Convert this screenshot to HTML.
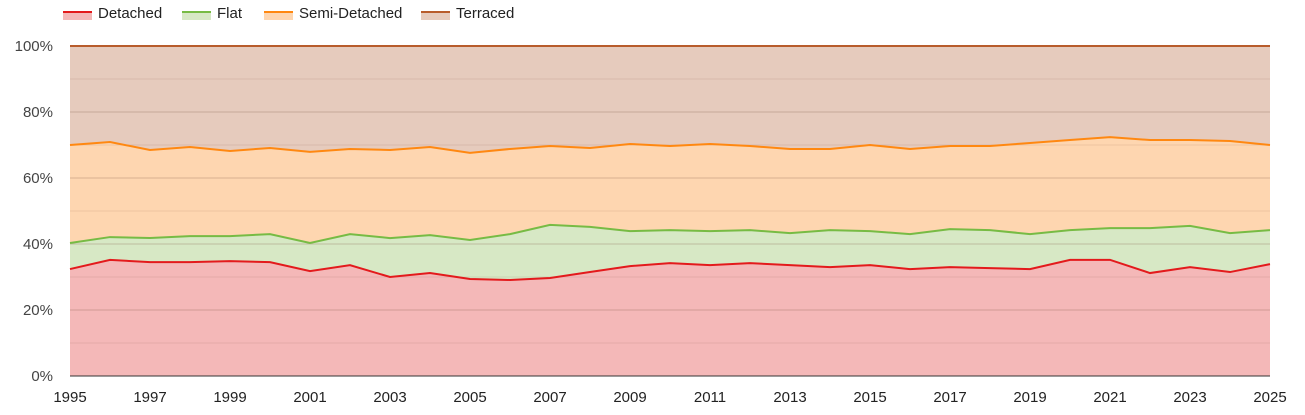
<!DOCTYPE html>
<html><head><meta charset="utf-8"><style>
body{margin:0;background:#fff;width:1305px;height:410px;overflow:hidden;font-family:"Liberation Sans",Arial,sans-serif}
</style></head><body>
<svg id="chart" width="1305" height="410" xmlns="http://www.w3.org/2000/svg"></svg>
<script>
const years=[];for(let y=1995;y<=2025;y++)years.push(y);
const detached=[32.4,35.2,34.5,34.5,34.8,34.5,31.8,33.6,30,31.2,29.4,29.1,29.7,31.5,33.3,34.2,33.6,34.2,33.6,33,33.6,32.4,33,32.7,32.4,35.2,35.2,31.2,33,31.5,33.9];
const flat=[7.9,6.9,7.3,7.9,7.6,8.5,8.5,9.4,11.8,11.5,11.8,13.9,16.1,13.7,10.6,10,10.3,10,9.7,11.2,10.3,10.6,11.5,11.5,10.6,9,9.6,13.6,12.5,11.8,10.3];
const semi=[29.7,28.8,26.7,27,25.8,26.1,27.6,25.8,26.7,26.7,26.4,25.8,23.9,23.9,26.4,25.5,26.4,25.5,25.5,24.6,26.1,25.8,25.2,25.5,27.6,27.3,27.6,26.7,26,27.9,25.8];
const terraced=[30,29.1,31.5,30.6,31.8,30.9,32.1,31.2,31.5,30.6,32.4,31.2,30.3,30.9,29.7,30.3,29.7,30.3,31.2,31.2,30,31.2,30.3,30.3,29.4,28.5,27.6,28.5,28.5,28.8,30];
const yTicks=[0,20,40,60,80,100];
const xTickYears=[1995,1997,1999,2001,2003,2005,2007,2009,2011,2013,2015,2017,2019,2021,2023,2025];

const NS="http://www.w3.org/2000/svg",svg=document.getElementById('chart');
const X0=70,X1=1270,Y0=376,Y1=46;
const x=yr=>X0+(yr-years[0])/(years[years.length-1]-years[0])*(X1-X0);
const y=p=>Y0-p/100*(Y0-Y1);
function el(t,a,p){const e=document.createElementNS(NS,t);for(const k in a)e.setAttribute(k,a[k]);(p||svg).appendChild(e);return e;}

const series=[
 {name:'Detached',vals:detached,fill:'#f4b8b8',line:'#e31a1c'},
 {name:'Flat',vals:flat,fill:'#d7e8c5',line:'#77bb44'},
 {name:'Semi-Detached',vals:semi,fill:'#fed6b0',line:'#ff8811'},
 {name:'Terraced',vals:terraced,fill:'#e6cbbd',line:'#b85c2c'}];
const totals=years.map((_,i)=>series.reduce((s,se)=>s+se.vals[i],0));
let base=years.map(()=>0);
const tops=[];
series.forEach(se=>{const top=base.map((b,i)=>b+se.vals[i]/totals[i]*100);tops.push({se,top,bot:base});base=top;});
tops.forEach(({se,top,bot},si)=>{
 let d='M'+years.map((yr,i)=>x(yr)+','+y(top[i])).join('L');
 for(let i=years.length-1;i>=0;i--)d+='L'+x(years[i])+','+y(bot[i]);
 const a=el('path',{d:d+'Z',fill:se.fill});
 
 
});
// gridlines
for(let p=10;p<=90;p+=10){const g=el('line',{x1:X0,x2:X1,y1:y(p),y2:y(p),stroke:p%20==0?'rgba(120,80,60,0.28)':'rgba(120,80,60,0.13)','stroke-width':1});
 }
tops.forEach(({se,top})=>{
 const l=el('polyline',{points:years.map((yr,i)=>x(yr)+','+y(top[i])).join(' '),fill:'none',stroke:se.line,'stroke-width':2});
 
 
});
const ax=el('line',{x1:X0,x2:X1,y1:Y0,y2:Y0,stroke:'#333','stroke-width':1});

yTicks.forEach(p=>{const t=el('text',{x:53,y:y(p)+5,'text-anchor':'end','font-size':15,fill:'#444'});t.textContent=p+'%';
 });
xTickYears.forEach(yr=>{const t=el('text',{x:x(yr),y:402,'text-anchor':'middle','font-size':15,fill:'#222'});t.textContent=yr;
 });
// legend
const lx=[63,182,264,421];
series.forEach((se,i)=>{const g=el('g',{});
 
 
 el('rect',{x:lx[i],y:12,width:29,height:8,fill:se.fill},g);
 el('rect',{x:lx[i],y:11,width:29,height:2,fill:se.line},g);
 const t=el('text',{x:lx[i]+35,y:18,'font-size':15,fill:'#222'},g);t.textContent=se.name;});
</script>
</body></html>
